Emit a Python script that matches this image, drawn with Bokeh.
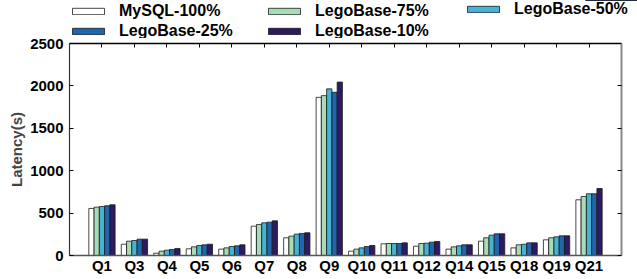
from bokeh.plotting import figure
from bokeh.layouts import column
from bokeh.models import Range1d, FixedTicker, LinearAxis, Legend, LegendItem, ColumnDataSource
from bokeh.transform import dodge
from bokeh.embed import file_html
from bokeh.resources import INLINE

queries = ["Q1", "Q3", "Q4", "Q5", "Q6", "Q7", "Q8", "Q9", "Q10", "Q11",
           "Q12", "Q14", "Q15", "Q18", "Q19", "Q21"]
mysql_100 = [555, 133, 27, 79, 75, 346, 209, 1865, 51, 138, 110, 75, 169, 90, 185, 657]
lego_75 = [570, 169, 51, 102, 90, 366, 228, 1885, 75, 141, 141, 102, 209, 126, 209, 696]
lego_50 = [578, 177, 63, 118, 106, 385, 252, 1965, 90, 141, 145, 114, 240, 133, 220, 728]
lego_25 = [586, 193, 71, 126, 114, 393, 260, 1925, 106, 141, 157, 126, 256, 149, 232, 728]
lego_10 = [598, 193, 83, 133, 126, 409, 268, 2045, 118, 149, 165, 126, 256, 149, 232, 790]
series_names = ["MySQL-100%", "LegoBase-75%", "LegoBase-50%", "LegoBase-25%", "LegoBase-10%"]
y_ticks = [0, 500, 1000, 1500, 2000, 2500]

colors = ["#ffffff", "#a8dcb6", "#45b3d6", "#2166ac", "#2d1a62"]
FONT = "Liberation Sans"
EDGE = "#1a1a1a"

W = 637
LEG_H = 38
H = 279 - LEG_H
TOP, BOTTOM, LEFT, RIGHT = 5, 24, 69, 16

xpos = list(range(1, len(queries) + 1))
source = ColumnDataSource(dict(x=xpos, s0=mysql_100, s1=lego_75, s2=lego_50, s3=lego_25, s4=lego_10))

# ---------------- main chart ----------------
p = figure(width=W, height=H, x_range=Range1d(0, len(queries) + 1), y_range=Range1d(0, 2500),
           output_backend="svg", toolbar_location=None,
           min_border_left=LEFT, min_border_right=RIGHT, min_border_bottom=BOTTOM, min_border_top=TOP)
p.background_fill_color = "white"
p.border_fill_color = "white"
p.outline_line_color = None
p.xgrid.visible = False
p.ygrid.visible = False

bw = 0.162
for i in range(5):
    off = (i - 2) * bw
    p.vbar(x=dodge("x", off, range=p.x_range), top="s%d" % i, width=bw, source=source,
           fill_color=colors[i], line_color=EDGE, line_width=0.8)

xa = p.xaxis[0]
xa.ticker = FixedTicker(ticks=xpos)
xa.major_label_overrides = {x: q for x, q in zip(xpos, queries)}
xa.major_label_text_font = FONT
xa.major_label_text_font_style = "bold"
xa.major_label_text_font_size = "15px"
xa.major_label_text_color = "black"
xa.major_label_standoff = 1
xa.major_tick_in = 0
xa.major_tick_out = 0
xa.minor_tick_line_color = None
xa.axis_line_color = "#555555"
xa.axis_line_width = 1.5

ya = p.yaxis[0]
ya.ticker = FixedTicker(ticks=y_ticks)
ya.axis_label = "Latency(s)"
ya.axis_label_text_font = FONT
ya.axis_label_text_font_style = "bold"
ya.axis_label_text_font_size = "15px"
ya.axis_label_standoff = 2
ya.major_label_text_font = FONT
ya.major_label_text_font_style = "bold"
ya.major_label_text_font_size = "15px"
ya.major_label_text_color = "black"
ya.major_label_standoff = 6
ya.major_tick_in = 4
ya.major_tick_out = 0
ya.minor_tick_line_color = None
ya.axis_line_color = "#333333"
ya.axis_line_width = 1.2

ra = LinearAxis(ticker=FixedTicker(ticks=y_ticks), major_label_text_alpha=0,
                major_label_text_font_size="1px",
                major_tick_in=4, major_tick_out=0, minor_tick_line_color=None,
                axis_line_color="#888888", axis_line_width=2, major_label_standoff=0)
p.add_layout(ra, "right")

ta = LinearAxis(ticker=FixedTicker(ticks=xpos), major_label_text_alpha=0,
                major_label_text_font_size="1px",
                major_tick_in=4, major_tick_out=0, minor_tick_line_color=None,
                axis_line_color="black", axis_line_width=1.5, major_label_standoff=0)
p.add_layout(ta, "above")

# ---------------- legend strip ----------------
leg = figure(width=W, height=LEG_H, x_range=Range1d(0, 1), y_range=Range1d(-2, -1),
             x_axis_type=None, y_axis_type=None,
             output_backend="svg", toolbar_location=None,
             min_border_left=0, min_border_right=0, min_border_top=0, min_border_bottom=0)
leg.xgrid.visible = False
leg.ygrid.visible = False
leg.outline_line_color = None
leg.background_fill_color = "white"
leg.border_fill_color = "white"

aligned = True
for fig in (leg, p):
    try:
        fig.frame_align = False
        aligned = False
    except Exception:
        pass

# swatch renderers share the data but sit outside the strip's visible y range
swatches = []
for i in range(5):
    swatches.append(leg.vbar(x="x", top="s%d" % i, width=bw, source=source,
                             fill_color=colors[i], line_color=EDGE, line_width=0.8))

x_shift = LEFT if aligned else 0
legend_cols = [([0, 3], 68, -2), ([1, 4], 264, -2), ([2], 463, 20)]
for idx, lx, ly in legend_cols:
    lg = Legend(items=[LegendItem(label=series_names[k], renderers=[swatches[k]]) for k in idx],
                orientation="vertical", glyph_width=40, glyph_height=8,
                label_height=16, spacing=2, padding=0, margin=0,
                border_line_color=None, background_fill_alpha=0,
                label_text_font=FONT, label_text_font_style="bold", label_text_font_size="16px",
                label_text_color="black", label_standoff=11, location=(lx - x_shift, ly))
    leg.add_layout(lg, "center")

layout = column(leg, p, spacing=0)
open("out.html", "w").write(file_html(layout, INLINE))
